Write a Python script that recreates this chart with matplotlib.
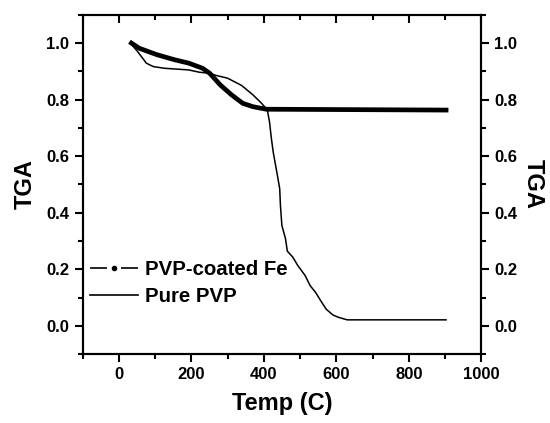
import matplotlib
matplotlib.use("Agg")
import matplotlib.pyplot as plt
from matplotlib.lines import Line2D
from matplotlib.ticker import MultipleLocator

# PVP-coated Fe
fe_temp = [35, 56, 105, 154, 193, 231, 251, 280, 311, 342, 370, 407, 903]
fe_tga = [1.0, 0.982, 0.959, 0.941, 0.929, 0.911, 0.893, 0.852, 0.817, 0.787, 0.775, 0.766, 0.763]

# Pure PVP
pvp_temp = [32, 52, 76, 95, 125, 193, 222, 251, 270, 300, 339, 370, 394, 410,
            416, 421, 426, 436, 444, 446, 450, 460, 465, 480, 494, 514, 528,
            543, 557, 572, 591, 606, 630, 903]
pvp_tga = [1.0, 0.97, 0.929, 0.917, 0.911, 0.905, 0.897, 0.893, 0.885, 0.876,
           0.85, 0.817, 0.787, 0.763, 0.72, 0.663, 0.615, 0.544, 0.485, 0.426,
           0.355, 0.308, 0.264, 0.243, 0.213, 0.178, 0.142, 0.118, 0.089,
           0.059, 0.038, 0.030, 0.021, 0.021]

plt.rcParams['font.family'] = 'Liberation Sans'
plt.rcParams['font.weight'] = 'bold'

fig = plt.figure(figsize=(5.5, 4.23), dpi=100)
ax = fig.add_axes([0.150, 0.163, 0.725, 0.802])

ax.plot(fe_temp, fe_tga, color='black', lw=3.4, solid_joinstyle='round')
ax.plot(pvp_temp, pvp_tga, color='black', lw=1.1)

ax.set_xlim(-100, 1000)
ax.set_ylim(-0.1, 1.1)
ax.xaxis.set_major_locator(MultipleLocator(200))
ax.xaxis.set_minor_locator(MultipleLocator(100))
ax.yaxis.set_major_locator(MultipleLocator(0.2))
ax.yaxis.set_minor_locator(MultipleLocator(0.1))

for s in ax.spines.values():
    s.set_linewidth(1.5)

ax.tick_params(axis='both', which='major', direction='out', length=6, width=1.5,
               labelsize=12)
ax.tick_params(axis='both', which='minor', direction='out', length=3.5, width=1.5)
ax.tick_params(axis='x', which='both', top=True, labeltop=False)
ax.tick_params(axis='y', which='both', right=False)

# top ticks point inward
for t in ax.xaxis.get_major_ticks():
    t.tick2line.set_marker(3)
    t.tick2line.set_markersize(6)
for t in ax.xaxis.get_minor_ticks():
    t.tick2line.set_marker(3)
    t.tick2line.set_markersize(3.5)

ax.set_xlabel("Temp (C)", fontsize=17, fontweight='bold', labelpad=7)
ax.set_ylabel("TGA", fontsize=17, fontweight='bold', labelpad=7)

ax2 = ax.twinx()
ax2.set_ylim(-0.1, 1.1)
ax2.yaxis.set_major_locator(MultipleLocator(0.2))
ax2.yaxis.set_minor_locator(MultipleLocator(0.1))
ax2.tick_params(axis='y', which='major', direction='out', length=6, width=1.5,
                labelsize=12)
ax2.tick_params(axis='y', which='minor', direction='out', length=3.5, width=1.5)
ax2.set_ylabel("TGA", fontsize=17, fontweight='bold', rotation=270, labelpad=20)
for s in ax2.spines.values():
    s.set_linewidth(1.5)

# legend key for the coated sample: dash, dot, dash
fe_key = Line2D([], [], color='black', lw=1.2, dashes=(10.2, 8.4),
                marker='o', markersize=3, markevery=[1])
fe_key.set_data([0, 0.5, 1], [0, 0, 0])
pvp_key = Line2D([], [], color='black', lw=1.2)
ax.legend([fe_key, pvp_key], ["PVP-coated Fe", "Pure PVP"], loc='center left',
          bbox_to_anchor=(0.018, 0.21), frameon=False, borderpad=0,
          borderaxespad=0, handlelength=2.35, handletextpad=0.35,
          labelspacing=0.4, prop={'size': 14.7, 'weight': 'bold'})

for lab in ax.get_xticklabels() + ax.get_yticklabels() + ax2.get_yticklabels():
    lab.set_fontweight('bold')

fig.savefig("out.png", dpi=100)
